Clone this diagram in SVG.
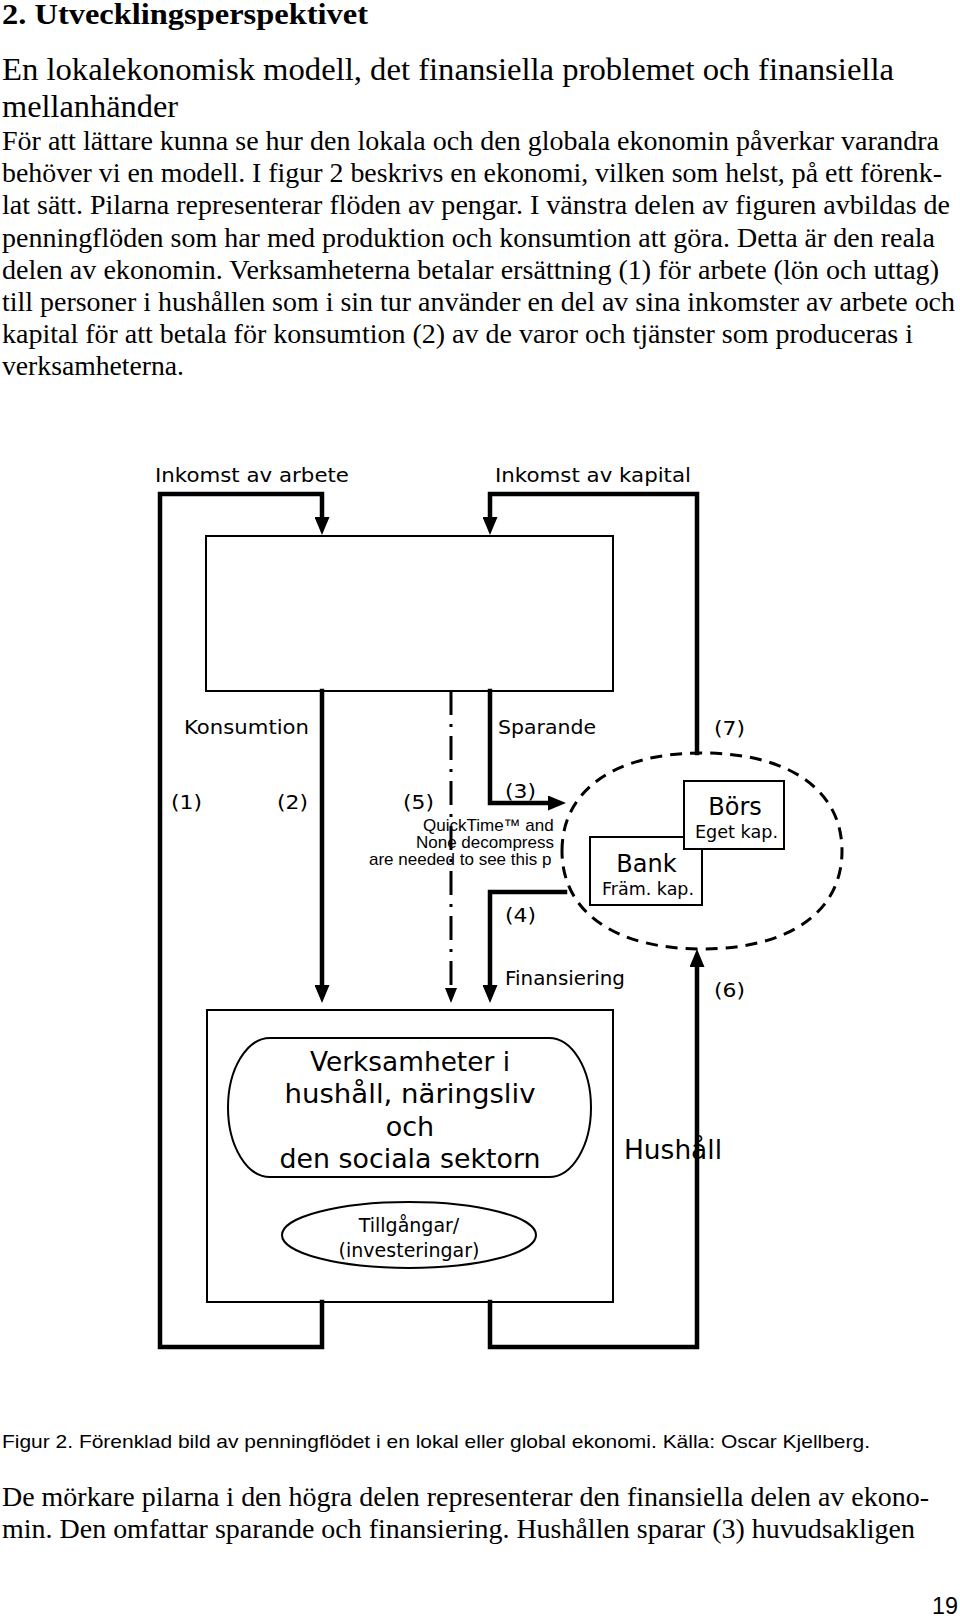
<svg xmlns="http://www.w3.org/2000/svg" width="960" height="1619" viewBox="0 0 960 1619">
<style>
.serif{font-family:"Liberation Serif","Times New Roman",serif;fill:#000}
.body{font-size:28px}
.sans{font-family:"DejaVu Sans",Verdana,sans-serif;fill:#000}
.arial{font-family:"Liberation Sans",Arial,sans-serif;fill:#000}
.lbl{font-size:20px}
.thick{fill:none;stroke:#000;stroke-width:4.5;stroke-linejoin:miter;stroke-linecap:square}
.box{fill:none;stroke:#000;stroke-width:2}
.wbox{fill:#fff;stroke:#000;stroke-width:2}
.dashdot{fill:none;stroke:#000;stroke-width:3;stroke-dasharray:24 9 3 9}
.dash{fill:none;stroke:#000;stroke-width:3;stroke-dasharray:12 8}
.mid{text-anchor:middle}
</style>
<defs>
<marker id="ah" markerUnits="userSpaceOnUse" markerWidth="18" markerHeight="15" refX="9" refY="7.5" orient="auto">
<path d="M0,0 L18,7.5 L0,15 Z" fill="#000"/>
</marker>
<marker id="ahs" markerUnits="userSpaceOnUse" markerWidth="15" markerHeight="12" refX="8" refY="6" orient="auto">
<path d="M0,0 L15,6 L0,12 Z" fill="#000"/>
</marker>
<clipPath id="qtclip"><rect x="340" y="810" width="217" height="70"/></clipPath>
</defs>

<g id="page-text">
<text class="serif" x="2" y="24" font-size="30" font-weight="bold" textLength="366" lengthAdjust="spacingAndGlyphs">2. Utvecklingsperspektivet</text>
<text class="serif" x="2" y="80" font-size="32" textLength="892" lengthAdjust="spacingAndGlyphs">En lokalekonomisk modell, det finansiella problemet och finansiella</text>
<text class="serif" x="2" y="117" font-size="32" textLength="176" lengthAdjust="spacingAndGlyphs">mellanhänder</text>
<text class="serif body" x="2" y="150" textLength="937" lengthAdjust="spacingAndGlyphs">För att lättare kunna se hur den lokala och den globala ekonomin påverkar varandra</text>
<text class="serif body" x="2" y="182" textLength="940" lengthAdjust="spacingAndGlyphs">behöver vi en modell. I figur 2 beskrivs en ekonomi, vilken som helst, på ett förenk-</text>
<text class="serif body" x="2" y="214" textLength="948" lengthAdjust="spacingAndGlyphs">lat sätt. Pilarna representerar flöden av pengar. I vänstra delen av figuren avbildas de</text>
<text class="serif body" x="2" y="246.5" textLength="933" lengthAdjust="spacingAndGlyphs">penningflöden som har med produktion och konsumtion att göra. Detta är den reala</text>
<text class="serif body" x="2" y="278.5" textLength="937" lengthAdjust="spacingAndGlyphs">delen av ekonomin. Verksamheterna betalar ersättning (1) för arbete (lön och uttag)</text>
<text class="serif body" x="2" y="311" textLength="953" lengthAdjust="spacingAndGlyphs">till personer i hushållen som i sin tur använder en del av sina inkomster av arbete och</text>
<text class="serif body" x="2" y="343" textLength="911" lengthAdjust="spacingAndGlyphs">kapital för att betala för konsumtion (2) av de varor och tjänster som produceras i</text>
<text class="serif body" x="2" y="375" textLength="182" lengthAdjust="spacingAndGlyphs">verksamheterna.</text>
<text class="arial" x="2" y="1448" font-size="19" textLength="868" lengthAdjust="spacingAndGlyphs">Figur 2. Förenklad bild av penningflödet i en lokal eller global ekonomi. Källa: Oscar Kjellberg.</text>
<text class="serif body" x="2" y="1506" textLength="927" lengthAdjust="spacingAndGlyphs">De mörkare pilarna i den högra delen representerar den finansiella delen av ekono-</text>
<text class="serif body" x="2" y="1538" textLength="913" lengthAdjust="spacingAndGlyphs">min. Den omfattar sparande och finansiering. Hushållen sparar (3) huvudsakligen</text>
<text class="arial" x="932" y="1614" font-size="24" textLength="26" lengthAdjust="spacingAndGlyphs">19</text>
</g>

<g id="connectors">
<path class="thick" d="M322,1302 L322,1347 L160,1347 L160,494 L322,494 L322,526" marker-end="url(#ah)"/>
<path class="thick" d="M697,753 L697,494 L490,494 L490,526" marker-end="url(#ah)"/>
<path class="thick" d="M490,1302 L490,1347 L697,1347 L697,958" marker-end="url(#ah)"/>
<path class="thick" d="M322,691 L322,994" marker-end="url(#ah)"/>
<path class="dashdot" d="M451,691 L451,996" marker-end="url(#ahs)"/>
<path class="thick" d="M490,691 L490,803 L557,803" marker-end="url(#ah)"/>
<path class="thick" d="M565,892 L490,892 L490,994" marker-end="url(#ah)"/>
</g>

<g id="labels">
<text class="sans lbl" x="155" y="482" textLength="194" lengthAdjust="spacingAndGlyphs">Inkomst av arbete</text>
<text class="sans lbl" x="495" y="482" textLength="196" lengthAdjust="spacingAndGlyphs">Inkomst av kapital</text>
<text class="sans lbl" x="184" y="734" textLength="125" lengthAdjust="spacingAndGlyphs">Konsumtion</text>
<text class="sans lbl" x="498" y="734" textLength="98" lengthAdjust="spacingAndGlyphs">Sparande</text>
<text class="sans lbl" x="714" y="735" textLength="31" lengthAdjust="spacingAndGlyphs">(7)</text>
<text class="sans lbl" x="171" y="809" textLength="31" lengthAdjust="spacingAndGlyphs">(1)</text>
<text class="sans lbl" x="277" y="809" textLength="31" lengthAdjust="spacingAndGlyphs">(2)</text>
<text class="sans lbl" x="403" y="809" textLength="31" lengthAdjust="spacingAndGlyphs">(5)</text>
<text class="sans lbl" x="505" y="798" textLength="31" lengthAdjust="spacingAndGlyphs">(3)</text>
<text class="sans lbl" x="505" y="922" textLength="31" lengthAdjust="spacingAndGlyphs">(4)</text>
<text class="sans lbl" x="505" y="985" textLength="120" lengthAdjust="spacingAndGlyphs">Finansiering</text>
<text class="sans lbl" x="714" y="997" textLength="31" lengthAdjust="spacingAndGlyphs">(6)</text>
<g clip-path="url(#qtclip)">
<text class="arial" x="423" y="831" font-size="17">QuickTime™ and</text>
<text class="arial" x="416" y="848" font-size="17">None decompress</text>
<text class="arial" x="369" y="865" font-size="17">are needed to see this p</text>
</g>
</g>

<g id="hushall-top">
<rect class="box" x="206" y="536" width="407" height="155"/>
</g>

<g id="finance-ellipse">
<path class="dash" d="M562,851 C562,790 615,753 702,753 C789,753 842,790 842,851 C842,912 789,949 702,949 C615,949 562,912 562,851 Z"/>
</g>

<g id="bank">
<rect class="wbox" x="590" y="837" width="112" height="68"/>
<text class="sans mid" x="646.5" y="872" font-size="24">Bank</text>
<text class="sans mid" x="648" y="895" font-size="17" textLength="92" lengthAdjust="spacingAndGlyphs">Främ. kap.</text>
</g>

<g id="bors">
<rect class="wbox" x="684" y="781" width="100" height="68"/>
<text class="sans mid" x="735" y="815" font-size="24">Börs</text>
<text class="sans mid" x="736.5" y="838" font-size="17" textLength="83" lengthAdjust="spacingAndGlyphs">Eget kap.</text>
</g>

<g id="verksamheter-box">
<rect class="box" x="207" y="1010" width="406" height="292"/>
</g>

<g id="verksamheter">
<rect class="box" x="228" y="1038" width="363" height="139" rx="42" ry="69.5"/>
<text class="sans mid" x="410" y="1071" font-size="27" textLength="200" lengthAdjust="spacingAndGlyphs">Verksamheter i</text>
<text class="sans mid" x="410" y="1103" font-size="27" textLength="251" lengthAdjust="spacingAndGlyphs">hushåll, näringsliv</text>
<text class="sans mid" x="410" y="1136" font-size="27">och</text>
<text class="sans mid" x="410" y="1168" font-size="27" textLength="261" lengthAdjust="spacingAndGlyphs">den sociala sektorn</text>
</g>

<g id="tillgangar">
<ellipse class="box" cx="409" cy="1235" rx="127" ry="33" stroke-width="1.8"/>
<text class="sans mid" x="409" y="1232" font-size="19">Tillgångar/</text>
<text class="sans mid" x="409" y="1257" font-size="19">(investeringar)</text>
</g>

<g id="hushall">
<text class="sans" x="624" y="1159" font-size="26" textLength="98" lengthAdjust="spacingAndGlyphs">Hushåll</text>
</g>
</svg>
